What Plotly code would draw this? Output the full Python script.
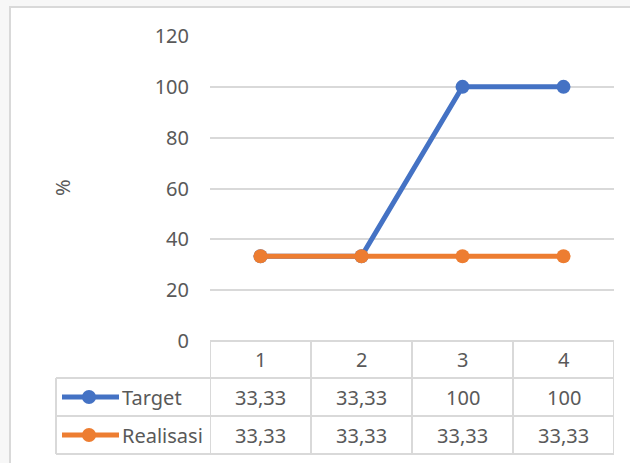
import plotly.graph_objects as go

categories = ["1", "2", "3", "4"]
target = [33.33, 33.33, 100, 100]
realisasi = [33.33, 33.33, 33.33, 33.33]
target_labels = ["33,33", "33,33", "100", "100"]
realisasi_labels = ["33,33", "33,33", "33,33", "33,33"]
y_ticks = [0, 20, 40, 60, 80, 100, 120]

W, H = 630, 463
FONT = "Noto Sans"
FS = 20
TXT = "#595959"
GRID = "#d9d9d9"
BLUE = "#4472C4"
ORANGE = "#ED7D31"


def px(x, y):
    # pixel position -> paper coordinates
    return x / W, 1 - y / H


x0, _ = px(210, 0)
x1, _ = px(614, 0)
_, y_bot = px(0, 341)
_, y_top = px(0, 36)

fig = go.Figure()
for name, vals, col in [("Target", target, BLUE), ("Realisasi", realisasi, ORANGE)]:
    fig.add_trace(go.Scatter(
        x=[1, 2, 3, 4], y=vals, name=name, mode="lines+markers",
        line=dict(color=col, width=5), marker=dict(color=col, size=14),
        showlegend=False, cliponaxis=False, hoverinfo="skip",
    ))

shapes = []
# chart frame
fx0, fy0 = px(10, 7)
fx1, fy1 = px(640, 475)
shapes.append(dict(type="rect", xref="paper", yref="paper", x0=fx0, y0=fy1, x1=fx1, y1=fy0,
                   fillcolor="white", line=dict(color=GRID, width=2), layer="below"))

# data table lines
rows = [341, 378, 416, 454]
for i, ry in enumerate(rows):
    _, yy = px(0, ry)
    left = 210 if i == 0 else 56
    shapes.append(dict(type="line", xref="paper", yref="paper", x0=left / W, x1=x1, y0=yy, y1=yy,
                       line=dict(color=GRID, width=2)))
_, r_top = px(0, 341)
_, r_mid = px(0, 378)
_, r_bot = px(0, 454)
for k in range(len(categories) + 1):
    shapes.append(dict(type="line", xref="x", yref="paper", x0=k + 0.5, x1=k + 0.5, y0=r_bot, y1=r_top,
                       line=dict(color=GRID, width=2)))
shapes.append(dict(type="line", xref="paper", yref="paper", x0=56 / W, x1=56 / W, y0=r_bot, y1=r_mid,
                   line=dict(color=GRID, width=2)))


def label(x, y, text, xref="x", xanchor="center", angle=0):
    return dict(x=x, y=y, xref=xref, yref="paper", text=text, showarrow=False,
                xanchor=xanchor, yanchor="middle", textangle=angle,
                font=dict(family=FONT, size=FS, color=TXT))


annotations = []
# header row
_, hy = px(0, 359)
for i, c in enumerate(categories):
    annotations.append(label(i + 1, hy, c))
# series rows
for (name, labels, col), ry in zip([("Target", target_labels, BLUE), ("Realisasi", realisasi_labels, ORANGE)],
                                   [397, 435]):
    _, yy = px(0, ry)
    for i, lab in enumerate(labels):
        annotations.append(label(i + 1, yy, lab))
    annotations.append(label(120 / W, yy, name, xref="paper", xanchor="left"))
    shapes.append(dict(type="line", xref="paper", yref="paper", x0=62 / W, x1=119 / W, y0=yy, y1=yy,
                       line=dict(color=col, width=5)))
    cx, _ = px(89, 0)
    shapes.append(dict(type="circle", xref="paper", yref="paper",
                       x0=cx - 7 / W, x1=cx + 7 / W, y0=yy - 7 / H, y1=yy + 7 / H,
                       fillcolor=col, line=dict(color=col, width=0)))

# y axis title
tx, ty = px(63, 188)
annotations.append(label(tx, ty, "%", xref="paper", angle=-90))

fig.update_layout(
    width=W, height=H,
    margin=dict(l=0, r=0, t=0, b=0),
    paper_bgcolor="#f7f7f7",
    plot_bgcolor="rgba(0,0,0,0)",
    hovermode=False,
    xaxis=dict(domain=[x0, x1], range=[0.5, 4.5], showgrid=False, zeroline=False,
               showticklabels=False, showline=False, fixedrange=True, automargin=False),
    yaxis=dict(domain=[y_bot, y_top], range=[0, 120], tickvals=y_ticks,
               showgrid=True, gridcolor=GRID, gridwidth=2, zeroline=False, showline=False,
               ticks="", ticklabelstandoff=20, automargin=False, fixedrange=True,
               tickfont=dict(family=FONT, size=FS, color=TXT)),
    shapes=shapes,
    annotations=annotations,
)

fig.write_html("out.html", config={"displayModeBar": False},
               post_script="document.body.style.margin='0';")
